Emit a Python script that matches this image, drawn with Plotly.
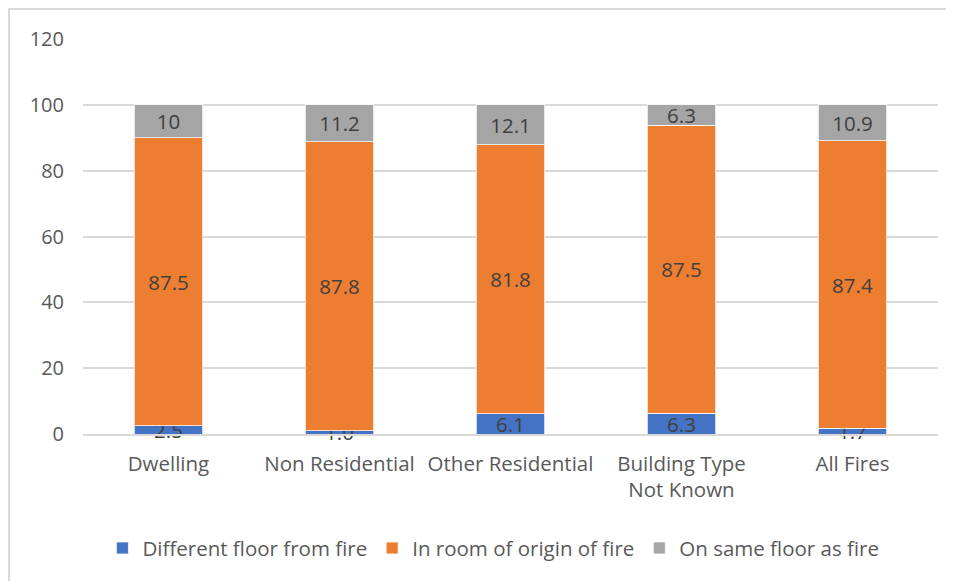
import plotly.graph_objects as go

categories = ["Dwelling", "Non Residential", "Other Residential", "Building Type<br>Not Known", "All Fires"]
different_floor = [2.5, 1.0, 6.1, 6.3, 1.7]
room_of_origin = [87.5, 87.8, 81.8, 87.5, 87.4]
same_floor = [10, 11.2, 12.1, 6.3, 10.9]
different_floor_labels = ["2.5", "1.0", "6.1", "6.3", "1.7"]
room_labels = ["87.5", "87.8", "81.8", "87.5", "87.4"]
same_floor_labels = ["10", "11.2", "12.1", "6.3", "10.9"]

FONT = "Open Sans"
label_font = dict(family=FONT, size=20.5, color="#404040")

fig = go.Figure()
for name, vals, labels, color in [
    ("Different floor from fire", different_floor, different_floor_labels, "#4472C4"),
    ("In room of origin of fire", room_of_origin, room_labels, "#ED7D31"),
    ("On same floor as fire", same_floor, same_floor_labels, "#A5A5A5"),
]:
    fig.add_trace(go.Bar(
        name=name, x=categories, y=vals, text=labels,
        textposition="inside", insidetextanchor="middle",
        constraintext="none", textangle=0, cliponaxis=False,
        insidetextfont=label_font,
        marker=dict(color=color, line=dict(color="white", width=0.75)),
        hoverinfo="skip",
    ))

W, H = 946, 573
L, R, T, B = 75, 16, 31, 147
pw, ph = W - L - R, H - T - B

fig.update_layout(
    barmode="stack",
    bargap=0.6,
    width=W, height=H, autosize=False,
    margin=dict(l=L, r=R, t=T, b=B, autoexpand=False),
    paper_bgcolor="white", plot_bgcolor="white",
    font=dict(family=FONT, size=20, color="#595959"),
    showlegend=True,
    legend=dict(orientation="h", x=0.48, xanchor="center", y=-0.289, yanchor="middle",
                font=dict(family=FONT, size=20.5, color="#595959"),
                traceorder="normal", itemwidth=30),
    uniformtext=dict(mode=False),
)
fig.update_xaxes(showgrid=False, showline=True, linecolor="#d9d9d9", linewidth=2,
                 ticks="", ticklabelstandoff=10,
                 tickfont=dict(family=FONT, size=20.5, color="#595959"), fixedrange=True)
fig.update_yaxes(range=[0, 120], dtick=20, showgrid=True, gridcolor="#d9d9d9", gridwidth=1.5,
                 zeroline=False, showline=False, ticks="", ticklabelstandoff=18,
                 tickfont=dict(family=FONT, size=20, color="#595959"), fixedrange=True)

fig.add_shape(type="rect", xref="paper", yref="paper",
              x0=(1 - L) / pw, x1=1.3, y0=-0.6, y1=(ph + T - 1) / ph,
              line=dict(color="#d9d9d9", width=2), fillcolor="rgba(0,0,0,0)", layer="below")

fig.write_html("out.html")
